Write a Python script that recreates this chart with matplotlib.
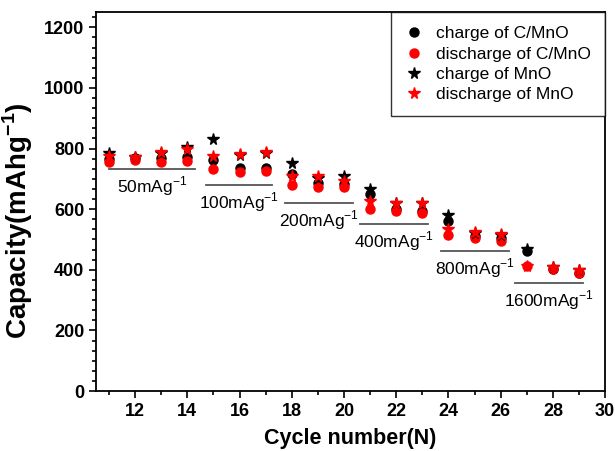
import numpy as np
import matplotlib
matplotlib.use("Agg")
import matplotlib.pyplot as plt
from matplotlib.ticker import MultipleLocator, AutoMinorLocator

plt.rcParams['font.family'] = ['Liberation Sans', 'DejaVu Sans']
plt.rcParams['mathtext.fontset'] = 'custom'
plt.rcParams['mathtext.rm'] = 'Liberation Sans'
plt.rcParams['mathtext.bf'] = 'Liberation Sans:bold'

# rate capability data, cycles 11-29
cycles = np.arange(11, 30)
charge_cmno = [766, 769, 770, 773, 762, 737, 737, 715, 688, 683,
               650, 600, 595, 562, 510, 505, 461, 403, 389]
discharge_cmno = [757, 762, 757, 759, 732, 724, 726, 680, 674, 672,
                  600, 593, 586, 516, 505, 496, 411, 403, 389]
charge_mno = [785, 772, 786, 805, 831, 780, 785, 754, 704, 710,
              666, 620, 619, 582, 522, 516, 469, 409, 400]
discharge_mno = [776, 773, 790, 799, 776, 781, 787, 710, 710, 694,
                 628, 622, 622, 535, 524, 518, 411, 409, 400]

# current density steps: label, bar start, bar end, bar level
rate_labels = ['50', '100', '200', '400', '800', '1600']
bar_start = [11.0, 14.7, 17.75, 20.6, 23.7, 26.55]
bar_end = [14.3, 17.25, 20.35, 23.2, 26.3, 29.15]
bar_level = [732, 679, 621, 551, 463, 356]

fig = plt.figure(figsize=(6.15, 4.51), dpi=100)
ax = fig.add_axes([0.156, 0.133, 0.828, 0.840])

ax.plot(cycles, charge_cmno, 'o', color='black', ms=6.5, label='charge of C/MnO')
ax.plot(cycles, discharge_cmno, 'o', color='red', ms=6.5, label='discharge of C/MnO')
ax.plot(cycles, charge_mno, '*', color='black', ms=8.5, label='charge of MnO')
ax.plot(cycles, discharge_mno, '*', color='red', ms=8.5, label='discharge of MnO')

for lab, x0, x1, yv in zip(rate_labels, bar_start, bar_end, bar_level):
    ax.plot([x0, x1], [yv, yv], color='#555555', lw=1.3)
    ax.text((x0 + x1) / 2, yv - 18, lab + r'mAg$^{\mathrm{-1}}$', ha='center', va='top',
            fontsize=12.5)

ax.set_xlim(10.5, 30)
ax.set_ylim(0, 1250)
ax.xaxis.set_major_locator(MultipleLocator(2))
ax.xaxis.set_minor_locator(MultipleLocator(1))
ax.yaxis.set_major_locator(MultipleLocator(200))
ax.yaxis.set_minor_locator(AutoMinorLocator(6))
ax.tick_params(which='both', direction='out', top=False, right=False, width=1.2)
ax.tick_params(which='major', length=5, labelsize=13)
ax.tick_params(which='minor', length=3)
for t in ax.get_xticklabels() + ax.get_yticklabels():
    t.set_fontweight('bold')
for s in ax.spines.values():
    s.set_linewidth(1.3)

ax.set_xlabel('Cycle number(N)', fontsize=15.5, fontweight='bold', labelpad=6)
ax.set_ylabel(r'Capacity(mAhg$^{\mathbf{-1}}$)', fontsize=20, fontweight='bold')
ax.yaxis.set_label_coords(-0.12, 0.45)

leg = ax.legend(loc='upper right', fontsize=12.5, borderaxespad=0, frameon=True,
                fancybox=False, handletextpad=0.8, labelspacing=0.3,
                borderpad=0.8, handlelength=1.0)
leg.get_frame().set_edgecolor('black')
leg.get_frame().set_linewidth(1.0)

fig.savefig('out.png', dpi=100)
